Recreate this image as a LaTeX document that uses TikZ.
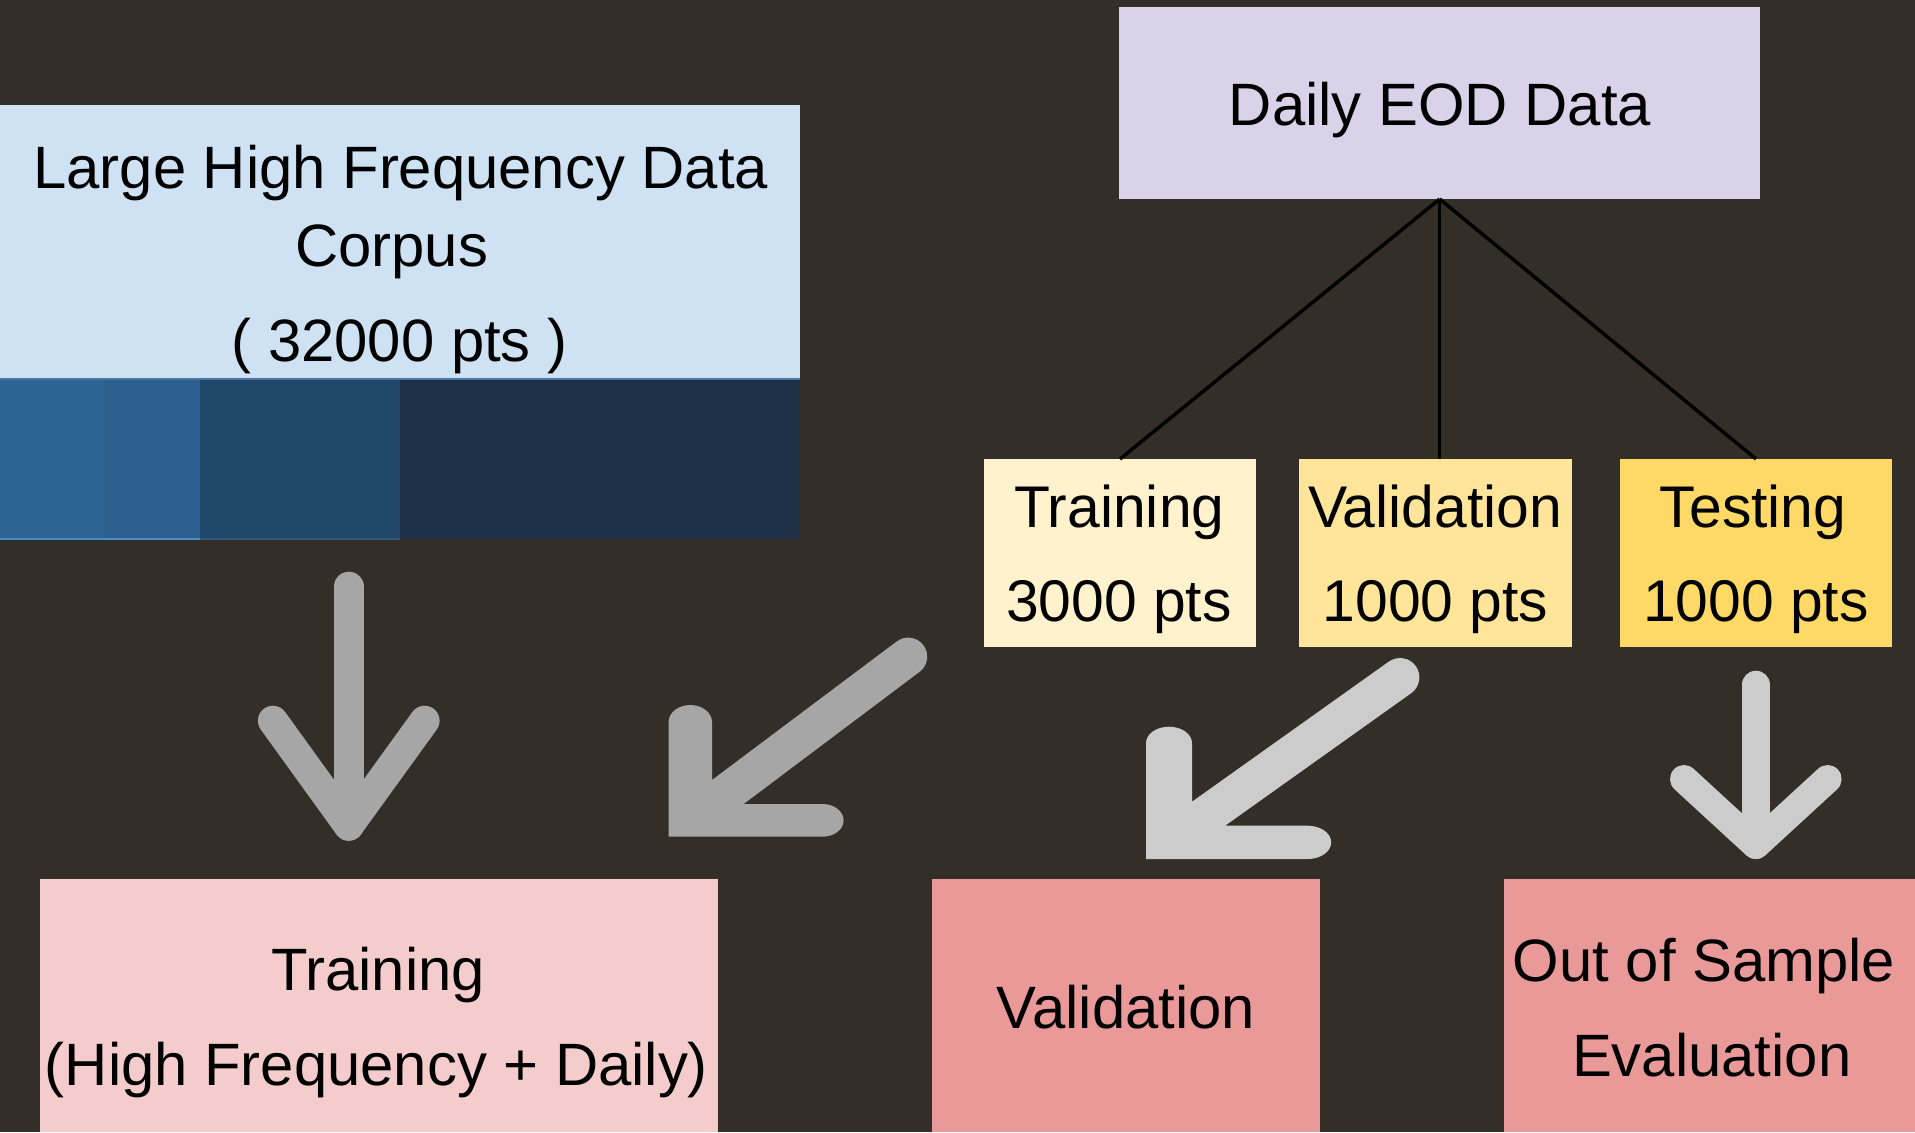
\documentclass[tikz,border=0pt]{standalone}
\usepackage{fontspec}
\setmainfont{Liberation Sans}
\definecolor{bg}{HTML}{332E28}
\definecolor{lblue}{HTML}{CFE2F3}
\definecolor{segA}{HTML}{2E6494}
\definecolor{segB}{HTML}{2C5F8D}
\definecolor{segC}{HTML}{21466C}
\definecolor{segD}{HTML}{1E3147}
\definecolor{segTop}{HTML}{4B77A3}
\definecolor{segBotA}{HTML}{4A8CCB}
\definecolor{segBotC}{HTML}{34587C}
\definecolor{lav}{HTML}{D9D2E9}
\definecolor{yA}{HTML}{FFF2CC}
\definecolor{yB}{HTML}{FFE599}
\definecolor{yC}{HTML}{FFD966}
\definecolor{pA}{HTML}{F4CCCC}
\definecolor{pB}{HTML}{EA9999}
\definecolor{gdark}{HTML}{A6A6A6}
\definecolor{glight}{HTML}{CCCCCC}
\tikzset{
  box/.style={draw=none, inner sep=0pt, outer sep=0pt, anchor=north west},
  txt/.style={inner sep=0pt, outer sep=0pt, anchor=base, text=black, font=\fontsize{29.9}{36}\selectfont},
  stxt/.style={txt, font=\fontsize{29.4}{36}\selectfont},
  conn/.style={draw=black, line width=1.75pt},
  bigarrow/.style={line width=15pt, line cap=round, line join=round},
}
\begin{document}
\begin{tikzpicture}[x=0.5pt,y=-0.5pt]
\path[fill=bg, use as bounding box] (0,0) rectangle (1915,1132);

% large high-frequency corpus
\node[box, fill=lblue, minimum width=400pt, minimum height=137pt] (hf) at (0,105) {};
\node[box, fill=segA, minimum width=52pt, minimum height=80pt] (s1) at (0,379) {};
\node[box, fill=segB, minimum width=48pt, minimum height=80pt] (s2) at (104,379) {};
\node[box, fill=segC, minimum width=100pt, minimum height=80pt] (s3) at (200,379) {};
\node[box, fill=segD, minimum width=200pt, minimum height=80pt] (s4) at (400,379) {};
\draw[draw=segTop, line width=0.85pt] (s1.north west) -- (s4.north east);
\draw[draw=segBotA, line width=0.9pt] (s1.south west) -- (s2.south east);
\draw[draw=segBotC, line width=0.9pt] (s3.south west) -- (s3.south east);
\node[txt] (hf1) at (400.8,188.3) {Large High Frequency Data};
\node[txt] (hf2) at (391.6,266.7) {Corpus};
\node[txt] (hf3) at (399.6,361.7) {( 32000 pts )};

% daily EOD
\node[box, fill=lav, minimum width=320.35pt, minimum height=95.85pt] (eod) at (1119.3,7.3) {};
\node[txt] (eodt) at (1440,125) {Daily EOD Data};

% split boxes
\node[box, fill=yA, minimum width=136pt, minimum height=93.75pt] (tr) at (984,459) {};
\node[box, fill=yB, minimum width=136.5pt, minimum height=93.75pt] (va) at (1299,459) {};
\node[box, fill=yC, minimum width=136pt, minimum height=93.75pt] (te) at (1620,459) {};
\node[stxt] (tr1) at (1119.3,527.3) {Training};
\node[stxt] (tr2) at (1119,621.7) {3000 pts};
\node[stxt] (va1) at (1435,527.3) {Validation};
\node[stxt] (va2) at (1435.5,621.7) {1000 pts};
\node[stxt] (te1) at (1753,527.3) {Testing};
\node[stxt] (te2) at (1756,621.7) {1000 pts};

\draw[conn] (eod.south) -- (tr.north);
\draw[conn] (eod.south) -- (eod.south |- va.north);
\draw[conn] (eod.south) -- (te.north);

% bottom boxes
\node[box, fill=pA, minimum width=338.85pt, minimum height=126.5pt] (btr) at (40.3,879) {};
\node[box, fill=pB, minimum width=194pt, minimum height=126.5pt] (bva) at (932,879) {};
\node[box, fill=pB, minimum width=205.75pt, minimum height=126.5pt] (boo) at (1503.5,879) {};
\node[txt] (btr1) at (378,990.7) {Training};
\node[txt] (btr2) at (376.5,1085) {(High Frequency + Daily)};
\node[txt] (bva1) at (1126,1028.3) {Validation};
\node[txt] (boo1) at (1704,981.7) {Out of Sample};
\node[txt] (boo2) at (1711.7,1076) {Evaluation};

% big arrows
\draw[bigarrow, draw=gdark] (348.7,586.7) -- (348.7,825.7);
\draw[bigarrow, draw=gdark] (272.9,720.7) -- (348.7,825.7) -- (424.6,720.7);

\fill[gdark] (668.6,836.7) -- (668.6,722)
  arc[start angle=180, end angle=360, x radius=21.7, y radius=17]
  -- (712,780) -- (896.8,641.4)
  arc[start angle=233.13, end angle=413.13, radius=19]
  -- (743.6,804) -- (822.6,804)
  arc[start angle=270, end angle=450, x radius=21, y radius=16.35]
  -- cycle;

\fill[glight] (1146,859) -- (1146,743)
  arc[start angle=180, end angle=360, x radius=23, y radius=16.3]
  -- (1192,801.7) -- (1388.8,661.6)
  arc[start angle=234.55, end angle=414.55, radius=19.35]
  -- (1225.1,825.7) -- (1307.7,825.7)
  arc[start angle=270, end angle=450, x radius=23.5, y radius=16.65]
  -- cycle;

\draw[bigarrow, line width=14pt, draw=glight] (1755.8,684.7) -- (1755.8,845);
\draw[bigarrow, line width=14pt, draw=glight] (1684,779) -- (1755.8,845) -- (1827.6,779);
\end{tikzpicture}
\end{document}
